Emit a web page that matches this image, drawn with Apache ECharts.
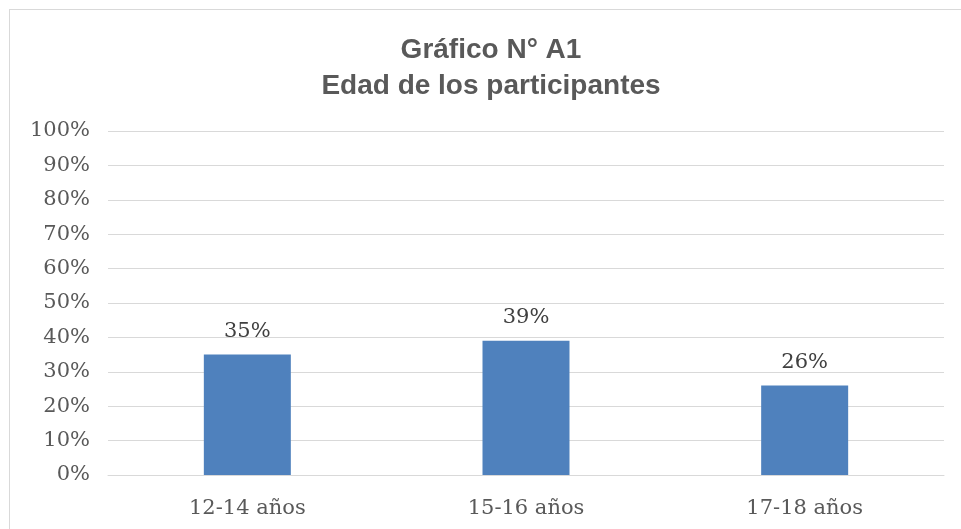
<!DOCTYPE html>
<html>
<head>
<meta charset="utf-8">
<script src="https://cdn.jsdelivr.net/npm/echarts@6/dist/echarts.min.js"></script>
<style>
    html, body { margin: 0; padding: 0; background: #ffffff; overflow: hidden; }
    .frame {
        position: absolute;
        left: 9px;
        top: 9px;
        width: 962px;
        height: 560px;
        border: 1px solid #d9d9d9;
    }
    #chart { width: 962px; height: 560px; }
</style>
</head>
<body>
<div class="frame"><div id="chart"></div></div>
<script>
    const categories = ['12-14 años', '15-16 años', '17-18 años'];
    const values = [35, 39, 26];

    const chart = echarts.init(document.getElementById('chart'));
    chart.setOption({
        animation: false,
        title: {
            text: 'Gráfico N° A1\nEdad de los participantes',
            left: 'center',
            top: 17,
            textStyle: {
                fontFamily: 'Liberation Sans',
                fontWeight: 'bold',
                fontSize: 28,
                lineHeight: 36,
                color: '#595959'
            }
        },
        grid: {
            left: 98,
            right: 28,
            top: 121,
            height: 344
        },
        xAxis: {
            type: 'category',
            data: categories,
            axisLine: { show: true, lineStyle: { color: '#d9d9d9', width: 1 } },
            axisTick: { show: false },
            axisLabel: {
                margin: 23,
                fontFamily: 'DejaVu Serif',
                fontSize: 21,
                color: '#595959'
            }
        },
        yAxis: {
            type: 'value',
            min: 0,
            max: 100,
            interval: 10,
            axisLine: { show: false },
            axisTick: { show: false },
            splitLine: { lineStyle: { color: '#d9d9d9', width: 1 } },
            axisLabel: {
                formatter: '{value}%',
                margin: 18,
                fontFamily: 'DejaVu Serif',
                fontSize: 21,
                color: '#595959'
            }
        },
        series: [
            {
                type: 'bar',
                data: values,
                barWidth: 87,
                itemStyle: { color: '#4f81bd' },
                label: {
                    show: true,
                    position: 'top',
                    distance: 13,
                    formatter: '{c}%',
                    fontFamily: 'DejaVu Serif',
                    fontSize: 21,
                    color: '#404040'
                }
            }
        ]
    });
</script>
</body>
</html>
